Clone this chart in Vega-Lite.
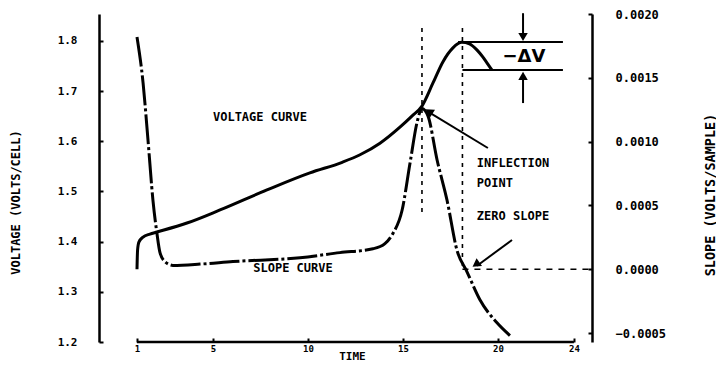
{
  "$schema": "https://vega.github.io/schema/vega-lite/v6.json",
  "width": 493,
  "height": 328,
  "autosize": {"type": "none"},
  "padding": {"left": 99, "top": 14, "right": 124, "bottom": 27},
  "background": "white",
  "config": {
    "view": {"stroke": null},
    "font": "DejaVu Sans Mono",
    "axis": {
      "labelFont": "DejaVu Sans Mono",
      "labelFontWeight": "bold",
      "labelColor": "black",
      "titleFont": "DejaVu Sans Mono",
      "titleFontWeight": "bold",
      "titleColor": "black",
      "domainColor": "black",
      "tickColor": "black",
      "domainWidth": 2.5,
      "tickWidth": 2,
      "grid": false
    }
  },
  "datasets": {
    "voltage": [
      {"t": 1.0, "v": 1.345}, {"t": 1.03, "v": 1.383}, {"t": 1.1, "v": 1.399}, {"t": 1.32, "v": 1.409},
      {"t": 1.68, "v": 1.415}, {"t": 2.05, "v": 1.419}, {"t": 3.63, "v": 1.437}, {"t": 5.37, "v": 1.463},
      {"t": 7.84, "v": 1.503}, {"t": 10.1, "v": 1.537}, {"t": 11.8, "v": 1.558}, {"t": 12.74, "v": 1.573},
      {"t": 13.79, "v": 1.596}, {"t": 14.84, "v": 1.628}, {"t": 15.47, "v": 1.65}, {"t": 16.0, "v": 1.67},
      {"t": 16.58, "v": 1.716}, {"t": 17.1, "v": 1.758}, {"t": 17.63, "v": 1.786}, {"t": 18.1, "v": 1.797},
      {"t": 18.5, "v": 1.794}, {"t": 18.89, "v": 1.782}, {"t": 19.2, "v": 1.768}, {"t": 19.42, "v": 1.756},
      {"t": 19.68, "v": 1.742}
    ],
    "slope": [
      {"t": 1.0, "s": 0.00182}, {"t": 1.32, "s": 0.00146}, {"t": 1.58, "s": 0.00101}, {"t": 1.84, "s": 0.00054},
      {"t": 2.05, "s": 0.00028}, {"t": 2.21, "s": 0.00013}, {"t": 2.47, "s": 0.00006}, {"t": 2.89, "s": 0.00003},
      {"t": 4.32, "s": 0.00004}, {"t": 6.05, "s": 0.00006}, {"t": 9.58, "s": 0.00009}, {"t": 11.68, "s": 0.00013},
      {"t": 13.42, "s": 0.00016}, {"t": 14.05, "s": 0.0002}, {"t": 14.47, "s": 0.00028}, {"t": 14.95, "s": 0.00046},
      {"t": 15.37, "s": 0.00083}, {"t": 15.74, "s": 0.00115}, {"t": 16.0, "s": 0.00126}, {"t": 16.32, "s": 0.0012},
      {"t": 16.79, "s": 0.00086}, {"t": 17.32, "s": 0.00054}, {"t": 17.84, "s": 0.00015}, {"t": 18.37, "s": -0.00002},
      {"t": 19.05, "s": -0.00024}, {"t": 19.95, "s": -0.00042}, {"t": 20.63, "s": -0.00052}
    ],
    "guides": [
      {"t": 16.0, "v": 1.8255, "v2": 1.459},
      {"t": 18.13, "v": 1.8255, "v2": 1.3414}
    ],
    "segments": [
      {"t": 17.9, "t2": 23.42, "v": 1.7976, "v2": 1.7976},
      {"t": 18.13, "t2": 23.42, "v": 1.7418, "v2": 1.7418},
      {"t": 21.32, "t2": 21.32, "v": 1.855, "v2": 1.81},
      {"t": 21.32, "t2": 21.32, "v": 1.676, "v2": 1.724},
      {"t": 19.47, "t2": 16.4, "v": 1.5865, "v2": 1.657},
      {"t": 20.74, "t2": 18.9, "v": 1.4032, "v2": 1.352}
    ],
    "baseline": [{"t": 1, "t2": 24, "v": 1.2, "v2": 1.2}],
    "centerLabels": [
      {"t": 7.47, "v": 1.648, "label": "VOLTAGE CURVE"},
      {"t": 9.21, "v": 1.347, "label": "SLOPE CURVE"}
    ],
    "leftLabels": [
      {"t": 18.89, "v": 1.5566, "label": "INFLECTION"},
      {"t": 18.89, "v": 1.5167, "label": "POINT"},
      {"t": 18.89, "v": 1.451, "label": "ZERO SLOPE"}
    ],
    "zeroLine": [{"t": 18.13, "t2": 24.95, "s": 0}]
  },
  "encoding": {
    "x": {
      "field": "t",
      "type": "quantitative",
      "scale": {"domain": [-1, 24.95], "nice": false, "zero": false},
      "axis": {
        "values": [1, 5, 10, 15, 20, 24],
        "format": "d",
        "domain": false,
        "tickSize": -4,
        "labelPadding": 6,
        "labelFontSize": 9,
        "title": "TIME",
        "titleFontSize": 11,
        "titleX": 253,
        "titleY": 14,
        "titleBaseline": "middle",
        "titleAlign": "center"
      }
    }
  },
  "layer": [
    {
      "encoding": {
        "y": {
          "field": "v",
          "type": "quantitative",
          "scale": {"domain": [1.2, 1.8534], "nice": false, "zero": false},
          "axis": {
            "orient": "left",
            "values": [1.2, 1.3, 1.4, 1.5, 1.6, 1.7, 1.8],
            "format": ".1f",
            "tickSize": -4,
            "labelPadding": 26,
            "labelFontSize": 11,
            "title": "VOLTAGE (VOLTS/CELL)",
            "titleFontSize": 12,
            "titleAngle": 270,
            "titleX": -84,
            "titleY": 188,
            "titleBaseline": "middle",
            "titleAlign": "center"
          }
        }
      },
      "layer": [
        {
          "data": {"name": "voltage"},
          "mark": {"type": "line", "color": "black", "strokeWidth": 3, "interpolate": "monotone"}
        },
        {
          "data": {"name": "guides"},
          "mark": {"type": "rule", "color": "black", "strokeWidth": 1.6, "strokeDash": [4, 5]},
          "encoding": {"y2": {"field": "v2"}}
        },
        {
          "data": {"name": "segments"},
          "mark": {"type": "rule", "color": "black", "strokeWidth": 2},
          "encoding": {"x2": {"field": "t2"}, "y2": {"field": "v2"}}
        },
        {
          "data": {"name": "baseline"},
          "mark": {"type": "rule", "color": "black", "strokeWidth": 2.5},
          "encoding": {"x2": {"field": "t2"}, "y2": {"field": "v2"}}
        },
        {
          "data": {"values": [{"t": 16.37, "v": 1.659}]},
          "mark": {"type": "point", "shape": "triangle-up", "angle": 303, "filled": true, "color": "black", "opacity": 1, "size": 90}
        },
        {
          "data": {"values": [{"t": 18.84, "v": 1.3544}]},
          "mark": {"type": "point", "shape": "triangle-up", "angle": 235, "filled": true, "color": "black", "opacity": 1, "size": 90}
        },
        {
          "data": {"values": [{"t": 21.32, "v": 1.8076}]},
          "mark": {"type": "point", "shape": "triangle-down", "filled": true, "color": "black", "opacity": 1, "size": 90}
        },
        {
          "data": {"values": [{"t": 21.32, "v": 1.73}]},
          "mark": {"type": "point", "shape": "triangle-up", "filled": true, "color": "black", "opacity": 1, "size": 90}
        },
        {
          "data": {"name": "centerLabels"},
          "mark": {"type": "text", "font": "DejaVu Sans Mono", "fontWeight": "bold", "fontSize": 12, "align": "center", "baseline": "middle", "color": "black"},
          "encoding": {"text": {"field": "label"}}
        },
        {
          "data": {"name": "leftLabels"},
          "mark": {"type": "text", "font": "DejaVu Sans Mono", "fontWeight": "bold", "fontSize": 12, "align": "left", "baseline": "middle", "color": "black"},
          "encoding": {"text": {"field": "label"}}
        },
        {
          "data": {"values": [{"t": 21.37, "v": 1.7677, "label": "−ΔV"}]},
          "mark": {"type": "text", "font": "DejaVu Sans", "fontWeight": "bold", "fontSize": 18, "align": "center", "baseline": "middle", "color": "black"},
          "encoding": {"text": {"field": "label"}}
        }
      ]
    },
    {
      "encoding": {
        "y": {
          "field": "s",
          "type": "quantitative",
          "scale": {"domain": [-0.0005705, 0.002], "nice": false, "zero": false},
          "axis": {
            "orient": "right",
            "values": [-0.0005, 0, 0.0005, 0.001, 0.0015, 0.002],
            "format": ".4f",
            "tickSize": -4,
            "labelPadding": 27,
            "labelFontSize": 12,
            "title": "SLOPE (VOLTS/SAMPLE)",
            "titleFontSize": 13.5,
            "titleAngle": 270,
            "titleX": 118,
            "titleY": 180.5,
            "titleBaseline": "middle",
            "titleAlign": "center"
          }
        }
      },
      "layer": [
        {
          "data": {"name": "slope"},
          "mark": {"type": "line", "color": "black", "strokeWidth": 3, "interpolate": "monotone", "strokeDash": [30, 3, 3, 3]}
        },
        {
          "data": {"name": "zeroLine"},
          "mark": {"type": "rule", "color": "black", "strokeWidth": 1.6, "strokeDash": [6, 6]},
          "encoding": {"x2": {"field": "t2"}}
        }
      ]
    }
  ],
  "resolve": {"scale": {"y": "independent"}}
}
